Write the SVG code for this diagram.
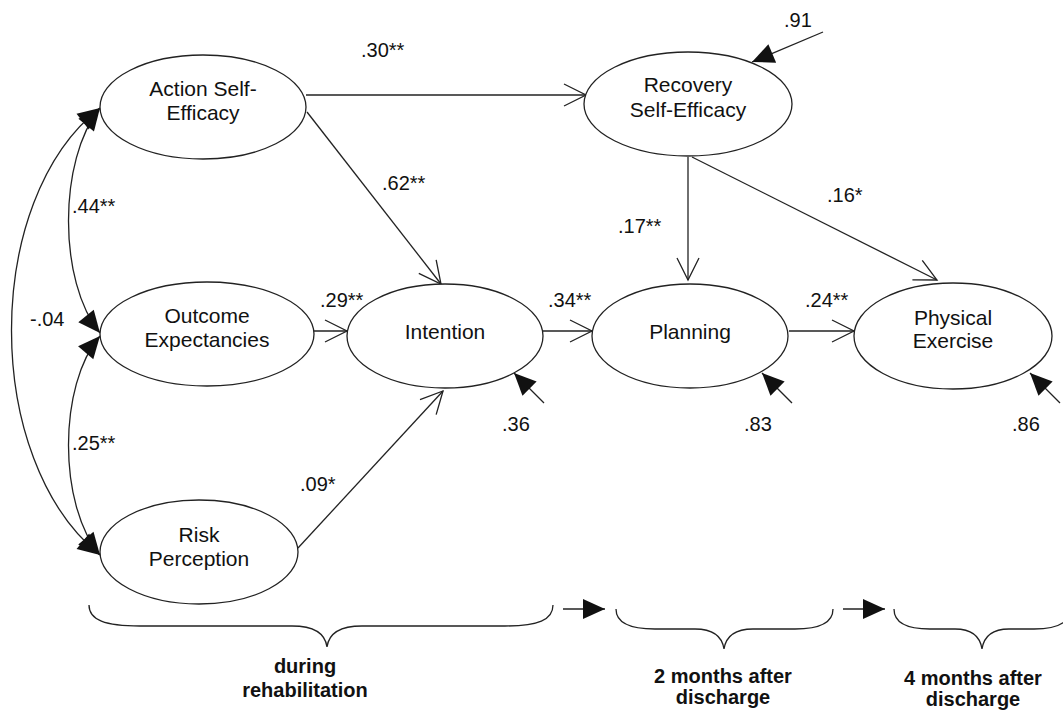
<svg xmlns="http://www.w3.org/2000/svg" width="1063" height="710" viewBox="0 0 1063 710">
<style>
.n{fill:#fff;stroke:#222;stroke-width:1.3}
.t{font-family:"Liberation Sans",Arial,sans-serif;font-size:21px;fill:#111;text-anchor:middle}
.l{font-family:"Liberation Sans",Arial,sans-serif;font-size:20px;fill:#111}
.b{font-family:"Liberation Sans",Arial,sans-serif;font-size:20px;font-weight:bold;fill:#111;text-anchor:middle}
.c{fill:none;stroke:#222;stroke-width:1.3}
.o{marker-end:url(#open)}
.f{marker-end:url(#fill)}
.d{marker-start:url(#fill);marker-end:url(#fill)}
</style>
<defs>
<marker id="open" markerUnits="userSpaceOnUse" markerWidth="26" markerHeight="26" refX="22" refY="11" orient="auto" overflow="visible">
<path d="M0,0 L22,11 L0,22" fill="none" stroke="#222" stroke-width="1.3"/>
</marker>
<marker id="fill" markerUnits="userSpaceOnUse" markerWidth="26" markerHeight="26" refX="22" refY="10" orient="auto-start-reverse" overflow="visible">
<path d="M0,0 L22,10 L0,20 Z" fill="#111"/>
</marker>
</defs>
<rect width="1063" height="710" fill="#fff"/>
<g id="connectors">
<line class="c o" x1="306" y1="95" x2="586" y2="95"/>
<line class="c o" x1="307" y1="112" x2="441" y2="284"/>
<line class="c o" x1="314" y1="331" x2="347" y2="331"/>
<line class="c o" x1="298" y1="548" x2="443" y2="391"/>
<line class="c o" x1="543" y1="331" x2="592" y2="331"/>
<line class="c o" x1="688" y1="157" x2="688" y2="280"/>
<line class="c o" x1="692" y1="157" x2="937" y2="280"/>
<line class="c o" x1="789" y1="331" x2="854" y2="331"/>
<line class="c f" x1="823" y1="32" x2="752" y2="62"/>
<line class="c f" x1="544" y1="403" x2="514" y2="373"/>
<line class="c f" x1="792" y1="403" x2="762" y2="373"/>
<line class="c f" x1="1060" y1="403" x2="1030" y2="373"/>
<path class="c d" d="M100,108 C58,160 58,282 100,333"/>
<path class="c d" d="M100,336 C58,385 58,505 100,555"/>
<path class="c d" d="M100,108 C-18,200 -18,460 100,555"/>
<line class="c f" x1="563" y1="609" x2="605" y2="609"/>
<line class="c f" x1="843" y1="609" x2="885" y2="609"/>
</g>
<g id="labels">
<text class="l" x="361" y="57">.30**</text>
<text class="l" x="382" y="190">.62**</text>
<text class="l" x="320" y="307">.29**</text>
<text class="l" x="548" y="307">.34**</text>
<text class="l" x="805" y="307">.24**</text>
<text class="l" x="618" y="233">.17**</text>
<text class="l" x="827" y="202">.16*</text>
<text class="l" x="300" y="491">.09*</text>
<text class="l" x="72" y="213">.44**</text>
<text class="l" x="30" y="326">-.04</text>
<text class="l" x="72" y="450">.25**</text>
<text class="l" x="784" y="27">.91</text>
<text class="l" x="502" y="431">.36</text>
<text class="l" x="744" y="431">.83</text>
<text class="l" x="1012" y="431">.86</text>
</g>
<g id="ase"><ellipse class="n" cx="203" cy="107" rx="103" ry="52"/><text class="t" x="203" y="96">Action Self-</text><text class="t" x="203" y="120">Efficacy</text></g>
<g id="oe"><ellipse class="n" cx="207" cy="334" rx="107" ry="52"/><text class="t" x="207" y="323">Outcome</text><text class="t" x="207" y="347">Expectancies</text></g>
<g id="rp"><ellipse class="n" cx="199" cy="552" rx="99" ry="52"/><text class="t" x="199" y="542">Risk</text><text class="t" x="199" y="566">Perception</text></g>
<g id="int"><ellipse class="n" cx="445" cy="336" rx="98" ry="52"/><text class="t" x="445" y="339">Intention</text></g>
<g id="rse"><ellipse class="n" cx="688" cy="104" rx="104" ry="52"/><text class="t" x="688" y="92">Recovery</text><text class="t" x="688" y="117">Self-Efficacy</text></g>
<g id="plan"><ellipse class="n" cx="690" cy="336" rx="98" ry="52"/><text class="t" x="690" y="339">Planning</text></g>
<g id="pe"><ellipse class="n" cx="953" cy="336" rx="99" ry="53"/><text class="t" x="953" y="325">Physical</text><text class="t" x="953" y="348">Exercise</text></g>
<g id="timeline">
<path class="c" d="M89,605 C89,620 105,626 140,626 L292,626 C312,626 325,632 327,647 C329,632 342,626 362,626 L505,626 C538,626 553,620 553,605"/>
<path class="c" d="M616,609 C616,622 628,629 655,629 L695,629 C712,629 722,636 724,649 C726,636 736,629 753,629 L795,629 C822,629 833,622 833,609"/>
<path class="c" d="M894,609 C894,622 906,629 930,629 L955,629 C972,629 980,636 982,649 C984,636 992,629 1009,629 L1034,629 C1058,629 1070,622 1070,609"/>
<text class="b" x="305" y="673">during</text>
<text class="b" x="305" y="697">rehabilitation</text>
<text class="b" x="723" y="683">2 months after</text>
<text class="b" x="723" y="704">discharge</text>
<text class="b" x="973" y="685">4 months after</text>
<text class="b" x="973" y="706">discharge</text>
</g>
</svg>
